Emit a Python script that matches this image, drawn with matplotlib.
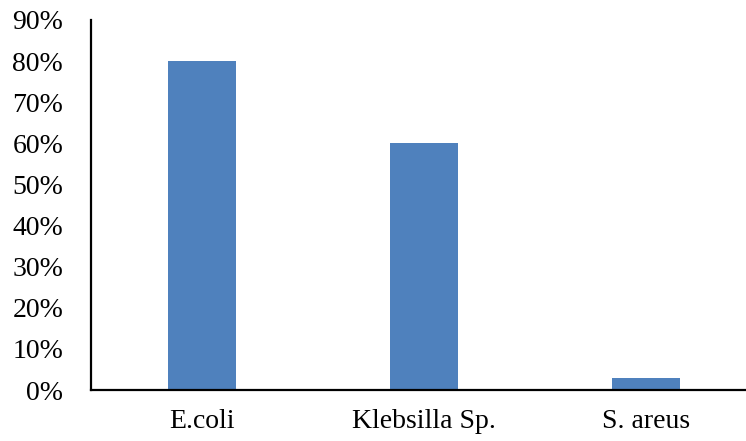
import matplotlib.pyplot as plt
from matplotlib.ticker import PercentFormatter

organisms = ["E.coli", "Klebsilla Sp.", "S. areus"]
share = [0.80, 0.60, 0.03]

plt.rcParams['font.family'] = ['Liberation Serif', 'DejaVu Serif']

W, H = 746, 441
fig = plt.figure(figsize=(W / 100, H / 100), dpi=100)
ax = fig.add_axes([91 / W, 1 - 390 / H, (757 - 91) / W, (390 - 20) / H])

ax.bar(range(len(organisms)), share, width=0.31, color="#4f81bd")

ax.set_xlim(-0.5, 2.5)
ax.set_ylim(0, 0.9)
ax.set_yticks([i / 10 for i in range(10)])
ax.yaxis.set_major_formatter(PercentFormatter(1.0, decimals=0))
ax.set_xticks(range(len(organisms)))
ax.set_xticklabels(organisms)

ax.tick_params(axis='both', length=0, labelsize=20)
ax.tick_params(axis='y', pad=20)
ax.tick_params(axis='x', pad=14)

for side in ("top", "right"):
    ax.spines[side].set_visible(False)
for side in ("left", "bottom"):
    ax.spines[side].set_linewidth(1.6)
    ax.spines[side].set_color("black")

fig.savefig("out.png", dpi=100)
